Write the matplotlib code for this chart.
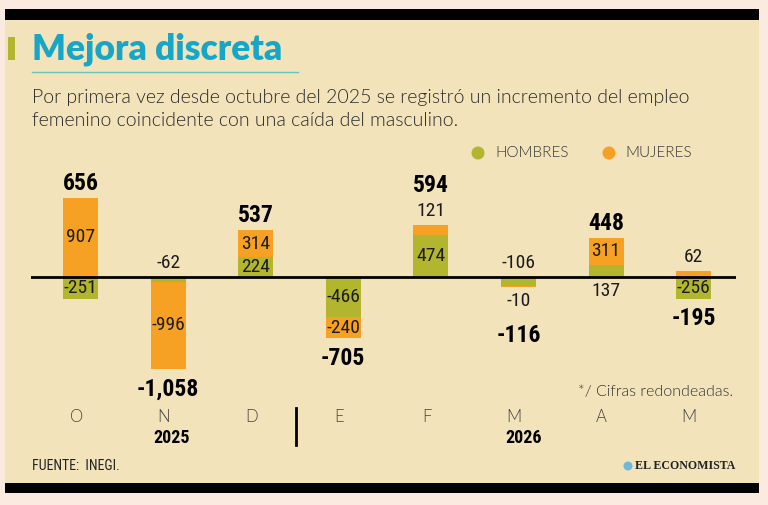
import os
import numpy as np
import matplotlib
matplotlib.use('Agg')
import matplotlib.pyplot as plt
from matplotlib import font_manager as fm
from matplotlib.patches import Rectangle, Circle
from matplotlib.font_manager import FontProperties
import matplotlib.transforms as mtrans

# ---------------- data ----------------
months = ['O', 'N', 'D', 'E', 'F', 'M', 'A', 'M']
years = ['2025', '2026']
hombres = [-251, -62, 224, -466, 474, -106, 137, -256]
mujeres = [907, -996, 314, -240, 121, -10, 311, 62]
totales = [656, -1058, 537, -705, 594, -116, 448, -195]
series_names = ['HOMBRES', 'MUJERES']

# label placement style for each segment
h_mode = ['in', 'opp', 'in', 'in', 'in', 'opp', 'opp', 'in']
m_mode = ['in', 'in', 'in', 'in', 'out', 'out', 'in', 'out']

GREEN = '#b2b52e'
ORANGE = '#f7a124'
BEIGE = '#f2e3bb'
OUTER = '#fbeadf'
TITLE = '#17a6c6'
TXT = '#1c1c1c'

# ---------------- fonts ----------------
files = {os.path.basename(f.fname): f.fname for f in fm.fontManager.ttflist}


def pick(cands):
    for c in cands:
        if c in files:
            return files[c]
    return None


f_cond_bold = pick(['RobotoCondensed-Bold.ttf', 'LiberationSansNarrow-Bold.ttf',
                    'DejaVuSansCondensed-Bold.ttf'])
f_cond_reg = pick(['RobotoCondensed-Regular.ttf', 'LiberationSansNarrow-Regular.ttf',
                   'DejaVuSansCondensed.ttf'])
f_light = pick(['Lato-Light.ttf', 'Roboto-Light.ttf', 'OpenSans-Light.ttf',
                'NotoSans-Light.ttf', 'DejaVuSans-ExtraLight.ttf'])
f_title = pick(['Lato-Black.ttf', 'Lato-Bold.ttf', 'Roboto-Bold.ttf', 'DejaVuSans-Bold.ttf'])
f_serif = pick(['LiberationSerif-Bold.ttf', 'DejaVuSerif-Bold.ttf'])


def fp(path, size, weight='normal', stretch='normal'):
    if path:
        return FontProperties(fname=path, size=size)
    return FontProperties(family='DejaVu Sans', size=size, weight=weight, stretch=stretch)


# ---------------- figure ----------------
W, H = 768, 505
fig = plt.figure(figsize=(W / 100, H / 100), dpi=100, facecolor=OUTER)
bg = fig.add_axes([0, 0, 1, 1], zorder=0)
bg.set_xlim(0, W)
bg.set_ylim(H, 0)
bg.axis('off')

bg.add_patch(Rectangle((5, 9), 754, 476, color=BEIGE, lw=0))
bg.add_patch(Rectangle((5, 9), 754, 11, color='black', lw=0))
bg.add_patch(Rectangle((5, 483), 754, 10, color='black', lw=0))

# title
bg.add_patch(Rectangle((8, 37), 7, 23, color=GREEN, lw=0))
bg.text(32, 60, 'Mejora discreta', fontproperties=fp(f_title, 25.5, 'bold'),
        color=TITLE, va='baseline', ha='left')
bg.plot([32, 298], [71.5, 71.5], color='#6cc2b3', lw=1)

sub = fp(f_light, 14.0)
bg.text(32, 97, 'Por primera vez desde octubre del 2025 se registró un incremento del empleo',
        fontproperties=sub, color='#2a2a2a', va='center', ha='left')
bg.text(32, 121, 'femenino coincidente con una caída del masculino.',
        fontproperties=sub, color='#2a2a2a', va='center', ha='left')

# legend
leg = fp(f_light, 11)
bg.add_patch(Circle((478, 153), 6.5, color=GREEN, lw=0))
bg.text(495, 153, series_names[0], fontproperties=leg, color='#333333', va='center')
bg.add_patch(Circle((609, 153), 6.5, color=ORANGE, lw=0))
bg.text(625, 153, series_names[1], fontproperties=leg, color='#333333', va='center')

# ---------------- chart ----------------
ax = fig.add_axes([31 / W, (H - 400) / H, 705 / W, 260 / H], zorder=2)
ax.patch.set_alpha(0)
ax.set_xlim(-0.565, 7.483)
ax.set_ylim(-1417, 1571)
ax.axis('off')

x = np.arange(len(months))
h = np.array(hombres)
m = np.array(mujeres)
mb = np.where(np.sign(h) == np.sign(m), h, 0)
ax.bar(x, h, width=0.4, color=GREEN, zorder=2)
ax.bar(x, m, bottom=mb, width=0.4, color=ORANGE, zorder=2)
ax.axhline(0, color='black', lw=2, zorder=3)

U = 1 / 0.087  # data units per pixel
inner = fp(f_cond_reg, 14)
big = fp(f_cond_bold, 17, 'bold')


def fmt(v):
    return f'{v:,}'


for i in range(len(months)):
    out_pos = None
    out_neg = None
    pos_end = max(h[i], 0) + max(m[i], 0) if np.sign(h[i]) == np.sign(m[i]) else max(h[i], m[i], 0)
    neg_end = min(h[i], 0) + min(m[i], 0) if np.sign(h[i]) == np.sign(m[i]) else min(h[i], m[i], 0)
    # hombres
    if h_mode[i] == 'in':
        yh = h[i] / 2
    else:
        yh = -np.sign(h[i]) * 14 * U
    ax.text(i, yh, fmt(h[i]), fontproperties=inner, color=TXT, ha='center', va='center', zorder=4)
    if h_mode[i] == 'opp':
        if h[i] < 0:
            out_pos = yh
        else:
            out_neg = yh
    # mujeres
    if m_mode[i] == 'in':
        ym = mb[i] + m[i] / 2
    else:
        ym = mb[i] + m[i] + np.sign(m[i]) * 14 * U
        if m[i] > 0:
            out_pos = ym
        else:
            out_neg = ym
    ax.text(i, ym, fmt(m[i]), fontproperties=inner, color=TXT, ha='center', va='center', zorder=4)
    # total
    t = totales[i]
    if t > 0:
        yt = out_pos + 25 * U if out_pos is not None else pos_end + 14 * U
    else:
        yt = out_neg - 35 * U if out_neg is not None else neg_end - 20 * U
    ax.text(i, yt, fmt(t), fontproperties=big, color='black', ha='center', va='center', zorder=4)

# month labels (x from chart, y in pixels)
tr = mtrans.blended_transform_factory(ax.transData, bg.transData)
mon = fp(f_light, 12)
for i, lab in enumerate(months):
    ax.text(i - 0.05, 417, lab, transform=tr, fontproperties=mon, color='#444444',
            ha='center', va='center', clip_on=False)
yr = fp(f_cond_bold, 13, 'bold')
ax.text(1.04, 438, years[0], transform=tr, fontproperties=yr, color='black',
        ha='center', va='center', clip_on=False)
ax.text(5.06, 438, years[1], transform=tr, fontproperties=yr, color='black',
        ha='center', va='center', clip_on=False)
ax.plot([2.46, 2.46], [408, 445], transform=tr, color='black', lw=2, clip_on=False)

bg.text(733, 392, '*/ Cifras redondeadas.', fontproperties=fp(f_light, 11.5),
        color='#333333', ha='right', va='center')

# footer
bg.text(32, 466, 'FUENTE:  INEGI.', fontproperties=fp(f_cond_reg, 10), color='#222222',
        ha='left', va='center')
bg.add_patch(Circle((628, 466), 4.5, color='#6fb8d6', lw=0))
bg.text(635, 466, 'EL ECONOMISTA', fontproperties=fp(f_serif, 8.6, 'bold'), color='#222222',
        ha='left', va='center')

fig.savefig('out.png', dpi=100, facecolor=OUTER)
